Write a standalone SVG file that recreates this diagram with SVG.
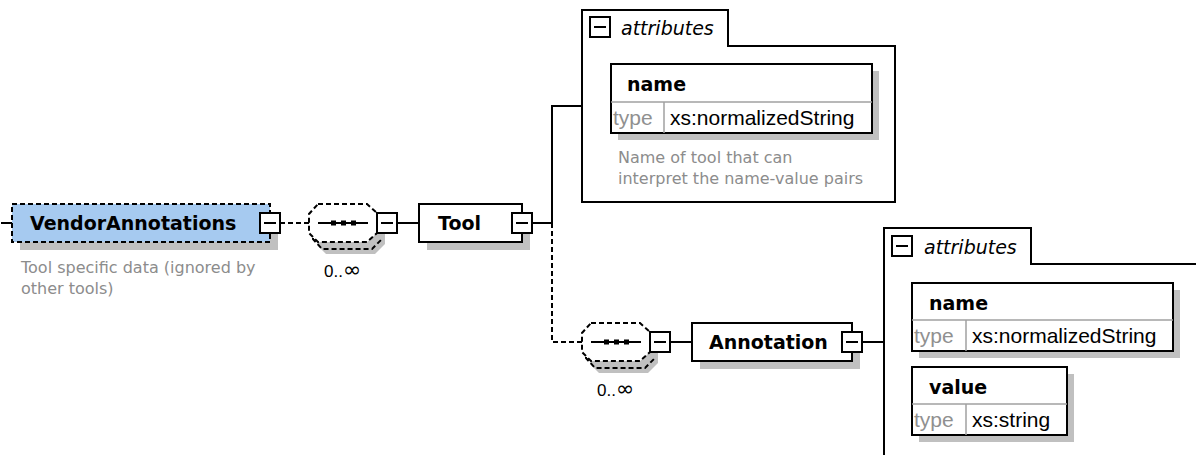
<svg xmlns="http://www.w3.org/2000/svg" width="1196" height="455" viewBox="0 0 1196 455">
<style>
.bg{fill:#ffffff}
.ln{stroke:#000;stroke-width:2;fill:none}
.dash{stroke:#000;stroke-width:2;fill:none;stroke-dasharray:5,3}
.shadow{fill:#c0c0c0;stroke:none}
.box{fill:#fff;stroke:#000;stroke-width:2}
.boxd{fill:#a6caf0;stroke:#000;stroke-width:2;stroke-dasharray:5,3}
.inner{stroke:#a0a0a0;stroke-width:1.5;fill:none}
.ename{font-family:"DejaVu Sans",Verdana,sans-serif;font-weight:bold;font-size:19px;fill:#000}
.desc{font-family:"DejaVu Sans",Verdana,sans-serif;font-size:16px;fill:#8c8c8c}
.typ{font-family:"Liberation Sans",Arial,sans-serif;font-size:21px;fill:#909090}
.tval{font-family:"Liberation Sans",Arial,sans-serif;font-size:21px;fill:#000}
.attr{font-family:"DejaVu Sans",Verdana,sans-serif;font-style:italic;font-size:19px;fill:#000}
.occ{font-family:"Liberation Sans",Arial,sans-serif;font-size:17px;fill:#000}
.inf{font-family:"DejaVu Sans",sans-serif;font-size:22px}
.dot{fill:#000}
</style>
<defs>
<g id="minus"><rect x="0" y="0" width="20" height="20" class="box"/><line x1="4" y1="10" x2="16" y2="10" class="ln"/></g>
<g id="seq">
<polygon class="shadow" points="17,11 66,11 76,20 76,40 66,50 17,50 8,41 8,21"/>
<polyline class="dash" points="4,26 4,35 13,45 63,45 72,36"/>
<polygon points="9,0 58,0 68,9 68,29 58,38 9,38 0,29 0,10" fill="#fff" stroke="#000" stroke-width="2" stroke-dasharray="5,3"/>
<line x1="9" y1="19" x2="59" y2="19" class="ln"/>
<rect x="22" y="16.5" width="5" height="5" class="dot"/>
<rect x="32" y="16.5" width="5" height="5" class="dot"/>
<rect x="42" y="16.5" width="5" height="5" class="dot"/>
</g>
</defs>
<rect x="0" y="0" width="1196" height="455" class="bg"/>

<g id="connectors">
<line x1="1" y1="223" x2="12" y2="223" class="ln"/>
<line x1="280" y1="223" x2="309" y2="223" class="dash"/>
<line x1="397" y1="223" x2="419" y2="223" class="ln"/>
<polyline points="532,223 552,223 552,106 582,106" class="ln"/>
<polyline points="552,223 552,342 582,342" class="dash"/>
<line x1="670" y1="342" x2="692" y2="342" class="ln"/>
<line x1="862" y1="342" x2="884" y2="342" class="ln"/>
</g>

<g id="VendorAnnotations">
<rect x="20" y="212" width="258" height="38" class="shadow"/>
<rect x="12" y="204" width="258" height="38" class="boxd"/>
<text x="30" y="230" class="ename">VendorAnnotations</text>
<use href="#minus" x="260" y="213"/>
<text x="21" y="273" class="desc">Tool specific data (ignored by</text>
<text x="21" y="294" class="desc">other tools)</text>
</g>

<g id="seq1">
<use href="#seq" x="309" y="204"/>
<use href="#minus" x="377" y="213"/>
<text x="324" y="277" class="occ">0..<tspan class="inf">∞</tspan></text>
</g>

<g id="Tool">
<rect x="427" y="212" width="103" height="38" class="shadow"/>
<rect x="419" y="204" width="103" height="38" class="box"/>
<text x="438" y="230" class="ename">Tool</text>
<use href="#minus" x="512" y="213"/>
</g>

<g id="ToolAttributes">
<path d="M582,202 L582,10 L728,10 L728,46 L895,46 L895,202 Z" class="box"/>
<rect x="590" y="17" width="20" height="20" class="box"/>
<line x1="594" y1="27" x2="606" y2="27" class="ln"/>
<text x="621" y="35" class="attr">attributes</text>
<rect x="618" y="71" width="261" height="69" class="shadow"/>
<rect x="611" y="64" width="261" height="69" class="box"/>
<line x1="611" y1="102" x2="872" y2="102" class="inner"/>
<line x1="664" y1="102" x2="664" y2="133" class="inner"/>
<text x="627" y="91" class="ename">name</text>
<text x="613" y="125" class="typ">type</text>
<text x="670" y="125" class="tval">xs:normalizedString</text>
<text x="618" y="163" class="desc">Name of tool that can</text>
<text x="618" y="184" class="desc">interpret the name-value pairs</text>
</g>

<g id="seq2">
<use href="#seq" x="582" y="323"/>
<use href="#minus" x="650" y="332"/>
<text x="597" y="396" class="occ">0..<tspan class="inf">∞</tspan></text>
</g>

<g id="Annotation">
<rect x="700" y="331" width="160" height="38" class="shadow"/>
<rect x="692" y="323" width="160" height="38" class="box"/>
<text x="709" y="349" class="ename">Annotation</text>
<use href="#minus" x="842" y="332"/>
</g>

<g id="AnnotationAttributes">
<path d="M884,460 L884,228 L1031,228 L1031,264 L1200,264" class="ln"/>
<rect x="892" y="236" width="20" height="20" class="box"/>
<line x1="896" y1="246" x2="908" y2="246" class="ln"/>
<text x="924" y="254" class="attr">attributes</text>
<rect x="919" y="290" width="261" height="68" class="shadow"/>
<rect x="912" y="283" width="261" height="68" class="box"/>
<line x1="912" y1="320" x2="1173" y2="320" class="inner"/>
<line x1="966" y1="320" x2="966" y2="351" class="inner"/>
<text x="929" y="310" class="ename">name</text>
<text x="914" y="343" class="typ">type</text>
<text x="972" y="343" class="tval">xs:normalizedString</text>
<rect x="919" y="374" width="155" height="68" class="shadow"/>
<rect x="912" y="367" width="155" height="68" class="box"/>
<line x1="912" y1="404" x2="1067" y2="404" class="inner"/>
<line x1="966" y1="404" x2="966" y2="435" class="inner"/>
<text x="929" y="394" class="ename">value</text>
<text x="914" y="427" class="typ">type</text>
<text x="972" y="427" class="tval">xs:string</text>
</g>
</svg>
